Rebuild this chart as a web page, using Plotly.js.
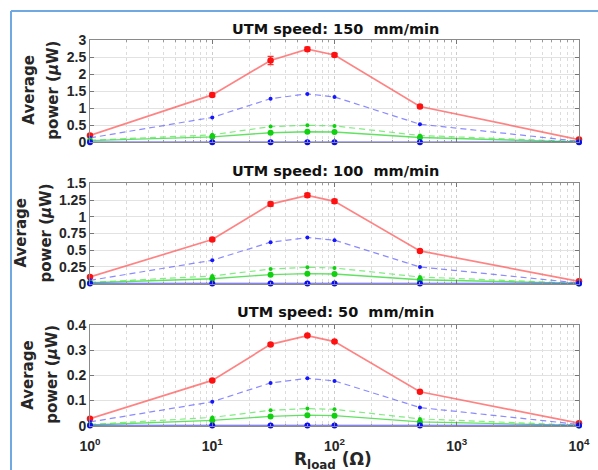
<!DOCTYPE html>
<html>
<head>
<meta charset="utf-8">
<script src="https://cdn.plot.ly/plotly-3.0.1.min.js"></script>
<style>html,body{margin:0;padding:0;background:#fff;}#chart{width:598px;height:470px;}</style>
</head>
<body>
<div id="chart"></div>
<script>
// Load resistance (Ohm)
const rload = [1, 10, 30, 60, 100, 500, 10000];

// Panel titles
const speedTitles = ["UTM speed: 150  mm/min", "UTM speed: 100  mm/min", "UTM speed: 50  mm/min"];

// 150 mm/min
const red150 = [0.20, 1.39, 2.40, 2.73, 2.56, 1.05, 0.08];
const redErr150 = [0.03, 0.05, 0.12, 0.06, 0.05, 0.04, 0.02];
const blueDash150 = [0.13, 0.73, 1.28, 1.42, 1.33, 0.53, 0.03];
const greenDash150 = [0.06, 0.22, 0.46, 0.50, 0.48, 0.20, 0.02];
const greenSolid150 = [0.05, 0.16, 0.28, 0.31, 0.30, 0.14, 0.01];
const blueSolid150 = [0.005, 0.005, 0.005, 0.005, 0.005, 0.005, 0.005];

// 100 mm/min
const red100 = [0.10, 0.66, 1.19, 1.32, 1.23, 0.49, 0.035];
const redErr100 = [0.01, 0.02, 0.03, 0.03, 0.03, 0.02, 0.01];
const blueDash100 = [0.05, 0.35, 0.62, 0.69, 0.65, 0.25, 0.01];
const greenDash100 = [0.02, 0.115, 0.22, 0.245, 0.235, 0.10, 0.005];
const greenSolid100 = [0.015, 0.075, 0.135, 0.15, 0.145, 0.06, 0.004];
const blueSolid100 = [0.002, 0.002, 0.002, 0.002, 0.002, 0.002, 0.002];

// 50 mm/min
const red50 = [0.028, 0.18, 0.323, 0.358, 0.334, 0.135, 0.01];
const redErr50 = [0.003, 0.004, 0.005, 0.004, 0.004, 0.004, 0.002];
const blueDash50 = [0.015, 0.095, 0.17, 0.188, 0.178, 0.072, 0.005];
const greenDash50 = [0.005, 0.033, 0.061, 0.068, 0.065, 0.027, 0.002];
const greenSolid50 = [0.003, 0.021, 0.037, 0.042, 0.040, 0.015, 0.001];
const blueSolid50 = [0.0005, 0.0005, 0.0005, 0.0005, 0.0005, 0.0005, 0.0005];

// Tick labels
const xTickVals = [1, 10, 100, 1000, 10000];
const xTickText = ["10<sup>0</sup>", "10<sup>1</sup>", "10<sup>2</sup>", "10<sup>3</sup>", "10<sup>4</sup>"];
const yTicks150 = [0, 0.5, 1, 1.5, 2, 2.5, 3];
const yTickText150 = ["0", "0.5", "1", "1.5", "2", "2.5", "3"];
const yTicks100 = [0, 0.25, 0.5, 0.75, 1, 1.25, 1.5];
const yTickText100 = ["0", "0.25", "0.5", "0.75", "1", "1.25", "1.5"];
const yTicks50 = [0, 0.1, 0.2, 0.3, 0.4];
const yTickText50 = ["0", "0.1", "0.2", "0.3", "0.4"];

const W = 598, H = 470;
const px = v => v / W;
const py = v => 1 - v / H;

const minorVals = [];
for (let k = 0; k < 4; k++) for (let m = 2; m <= 9; m++) minorVals.push(m * Math.pow(10, k));

const panels = [
  {red: red150, err: redErr150, bd: blueDash150, gd: greenDash150, gs: greenSolid150, bs: blueSolid150, top: 40, bot: 142.3, range: [0, 3], tv: yTicks150, tt: yTickText150, t1x: 29, t2x: 53, ty: 28.8},
  {red: red100, err: redErr100, bd: blueDash100, gd: greenDash100, gs: greenSolid100, bs: blueSolid100, top: 183.3, bot: 283.7, range: [0, 1.5], tv: yTicks100, tt: yTickText100, t1x: 20.5, t2x: 45.5, ty: 170.8},
  {red: red50, err: redErr50, bd: blueDash50, gd: greenDash50, gs: greenSolid50, bs: blueSolid50, top: 325, bot: 425.7, range: [0, 0.4], tv: yTicks50, tt: yTickText50, t1x: 28, t2x: 52, ty: 312.2}
];

const traces = [];
const layout = {
  width: W, height: H,
  margin: {l: 0, r: 0, t: 0, b: 0},
  paper_bgcolor: '#fff', plot_bgcolor: '#fff',
  showlegend: false,
  font: {family: 'Liberation Sans, Arial, sans-serif', color: '#222'},
  annotations: [], shapes: []
};

const tickFont = {family: 'Liberation Sans, Arial, sans-serif', size: 14, color: '#262626', weight: 'bold'};
const labelFamily = 'DejaVu Sans, sans-serif';

panels.forEach((p, i) => {
  const n = i === 0 ? '' : String(i + 1);
  const xa = 'x' + n, ya = 'y' + n;
  const common = {x: rload, xaxis: xa, yaxis: ya, type: 'scatter', mode: 'lines+markers', cliponaxis: false, hoverinfo: 'skip'};
  traces.push(Object.assign({}, common, {y: p.red,
    line: {color: 'rgba(255,100,100,0.8)', width: 1.7},
    marker: {color: '#ff1010', size: 6.5, symbol: 'circle'},
    error_y: {type: 'data', array: p.err, visible: true, color: '#ff3030', thickness: 1.2, width: 3}}));
  traces.push(Object.assign({}, common, {y: p.bd,
    line: {color: 'rgba(110,110,255,0.8)', width: 1.2, dash: '6px,4px'},
    marker: {color: '#1515ff', size: 4}}));
  traces.push(Object.assign({}, common, {y: p.gd,
    line: {color: 'rgba(100,230,100,0.8)', width: 1.2, dash: '6px,4px'},
    marker: {color: '#10d010', size: 4}}));
  traces.push(Object.assign({}, common, {y: p.gs,
    line: {color: 'rgba(70,220,70,0.85)', width: 1.4},
    marker: {color: '#10d010', size: 6}}));
  traces.push(Object.assign({}, common, {y: p.bs,
    line: {color: 'rgba(60,60,255,0.85)', width: 1.5},
    marker: {color: '#0a0aff', size: 6}}));

  const yDom = [py(p.bot), py(p.top)];
  layout['xaxis' + n] = {
    type: 'log', range: [0, 4], domain: [px(90), px(579)], anchor: ya,
    tickvals: xTickVals, ticktext: xTickText, showticklabels: i === 2,
    tickfont: tickFont, ticks: 'inside', ticklen: 4, tickcolor: '#777', ticklabelstandoff: 7,
    showline: true, linecolor: '#8a8a8a', linewidth: 1, mirror: 'ticks',
    showgrid: true, gridcolor: '#cccccc', griddash: 'dot', gridwidth: 1,
    minor: {tickvals: minorVals, ticks: 'inside', ticklen: 2, tickcolor: '#999', showgrid: true, gridcolor: '#dcdcdc', griddash: 'dot', gridwidth: 1},
    zeroline: false, fixedrange: true
  };
  layout['yaxis' + n] = {
    range: p.range, domain: yDom, anchor: xa,
    tickvals: p.tv, ticktext: p.tt, tickfont: tickFont,
    ticks: 'inside', ticklen: 4, tickcolor: '#777',
    showline: true, linecolor: '#8a8a8a', linewidth: 1, mirror: 'ticks',
    showgrid: true, gridcolor: '#e2e2e2', gridwidth: 1,
    zeroline: false, fixedrange: true
  };
  layout.annotations.push({
    xref: 'paper', yref: 'paper', x: px(335), y: py(p.ty), xanchor: 'center', yanchor: 'middle',
    text: '<b>' + speedTitles[i] + '</b>', showarrow: false,
    font: {family: labelFamily, size: 14.5, color: '#111'}
  });
  const cy = (p.top + p.bot) / 2 - 0.5;
  layout.annotations.push({
    xref: 'paper', yref: 'paper', x: px(p.t1x), y: py(cy), xanchor: 'center', yanchor: 'middle',
    text: '<b>Average</b>', showarrow: false, textangle: -90,
    font: {family: labelFamily, size: 15, color: '#262626'}
  });
  layout.annotations.push({
    xref: 'paper', yref: 'paper', x: px(p.t2x), y: py(cy), xanchor: 'center', yanchor: 'middle',
    text: '<b>power (<i>μ</i>W)</b>', showarrow: false, textangle: -90,
    font: {family: labelFamily, size: 15, color: '#262626'}
  });
});

layout.annotations.push({
  xref: 'paper', yref: 'paper', x: px(333), y: py(460), xanchor: 'center', yanchor: 'middle',
  text: '<b>R<sub>load</sub> (Ω)</b>', showarrow: false,
  font: {family: labelFamily, size: 17, color: '#262626'}
});

layout.shapes.push({type: 'line', xref: 'paper', yref: 'paper', x0: px(11), x1: 1.01, y0: py(11), y1: py(11), line: {color: '#6fa8e2', width: 2}});
layout.shapes.push({type: 'line', xref: 'paper', yref: 'paper', x0: px(11), x1: px(11), y0: py(11), y1: -0.01, line: {color: '#6fa8e2', width: 2}});

Plotly.newPlot('chart', traces, layout, {staticPlot: true, displayModeBar: false});
</script>
</body>
</html>
